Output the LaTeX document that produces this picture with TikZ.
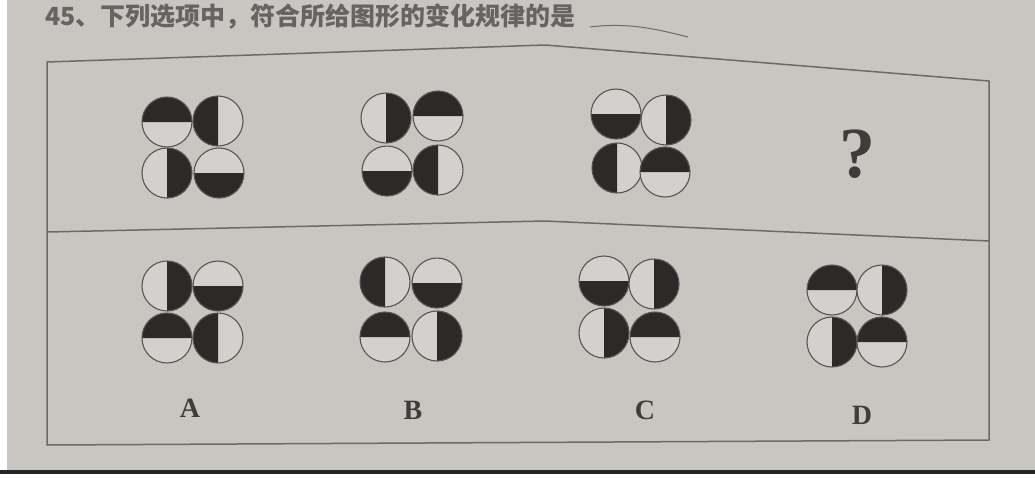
\documentclass[tikz,border=0pt]{standalone}
\usepackage{fontspec}
\setmainfont{Liberation Serif}
\newfontfamily\cjk{Noto Sans CJK SC}
\definecolor{paper}{HTML}{C9C6C2}
\definecolor{inner}{HTML}{D3D1CD}
\definecolor{blk}{HTML}{2B2A29}
\definecolor{linec}{HTML}{6B6A68}
\definecolor{inkc}{HTML}{3E3D3B}
\tikzset{
  frameline/.style={draw=linec, line width=1.5pt, line join=round},
  circline/.style={draw=linec!80!black, line width=1.1pt},
  halfblack/.style={fill=blk},
  circfill/.style={fill=inner},
  optlabel/.style={font=\bfseries\fontsize{28}{30}\selectfont, text=inkc},
}
% #1 name, #2 centre, #3 direction of the black half (y axis points down)
\newcommand\halfdisk[3]{%
  \coordinate (#1) at (#2);
  \fill[circfill] (#1) circle[radius=25];
  \fill[halfblack] (#1) -- ++(#3-90:25) arc[start angle=#3-90, delta angle=180, radius=25] -- cycle;
  \draw[circline] (#1) circle[radius=25];
}
\begin{document}
\begin{tikzpicture}[x=1pt,y=-1pt]
\useasboundingbox (0,0) rectangle (1035,477);
\fill[paper] (0,0) rectangle (1035,477);
\fill[white] (0,0) rectangle (7,477);
\fill[white] (0,474) rectangle (1035,477);
\fill[black!85] (0,470) rectangle (1035,474);
% header
\node[anchor=base west, inner sep=0, text=inkc!80, font=\cjk\bfseries\fontsize{25}{27}\selectfont] (title) at (45,25) {45、下列选项中，符合所给图形的变化规律的是};
\coordinate (penA) at (590,27);
\coordinate (penB) at (688,37);
\draw[linec, line width=1pt] (penA) .. controls (630,22) and (660,30) .. (penB);
% frame
\coordinate (tl) at (47,62);
\coordinate (tm) at (545,45);
\coordinate (tr) at (989,81);
\coordinate (ml) at (47,232);
\coordinate (mm) at (545,221);
\coordinate (mr) at (989,241);
\coordinate (bl) at (47,445);
\coordinate (br) at (989,440);
\draw[frameline] (tl) -- (tm) -- (tr) -- (br) -- (bl) -- cycle;
\draw[frameline] (ml) -- (mm) -- (mr);
% directions: 0 right, 90 bottom, 180 left, 270 top
% figure 1
\halfdisk{f1a}{167,122}{270}
\halfdisk{f1b}{218,121}{180}
\halfdisk{f1c}{167,173}{0}
\halfdisk{f1d}{219,173}{90}
% figure 2
\halfdisk{f2a}{386,118}{0}
\halfdisk{f2b}{438,116}{270}
\halfdisk{f2c}{387,171}{90}
\halfdisk{f2d}{438,170}{180}
% figure 3
\halfdisk{f3a}{616,114}{90}
\halfdisk{f3b}{666,120}{0}
\halfdisk{f3c}{617,168}{180}
\halfdisk{f3d}{665,172}{270}
\node[inner sep=0, text=inkc, font=\bfseries\fontsize{72}{74}\selectfont] (qm) at (857,154) {?};
% option A
\halfdisk{fAa}{167,286}{0}
\halfdisk{fAb}{218,286}{90}
\halfdisk{fAc}{167,338}{270}
\halfdisk{fAd}{218,338}{180}
% option B
\halfdisk{fBa}{385,282}{180}
\halfdisk{fBb}{437,283}{90}
\halfdisk{fBc}{385,337}{270}
\halfdisk{fBd}{437,336}{0}
% option C
\halfdisk{fCa}{604,281}{90}
\halfdisk{fCb}{654,284}{0}
\halfdisk{fCc}{604,333}{0}
\halfdisk{fCd}{655,337}{270}
% option D
\halfdisk{fDa}{832,290}{270}
\halfdisk{fDb}{882,290}{0}
\halfdisk{fDc}{832,342}{0}
\halfdisk{fDd}{882,342}{270}
% labels
\node[optlabel] (la) at (190,408) {A};
\node[optlabel] (lb) at (413,410) {B};
\node[optlabel] (lc) at (645,410) {C};
\node[optlabel] (ld) at (862,415) {D};
\end{tikzpicture}
\end{document}
